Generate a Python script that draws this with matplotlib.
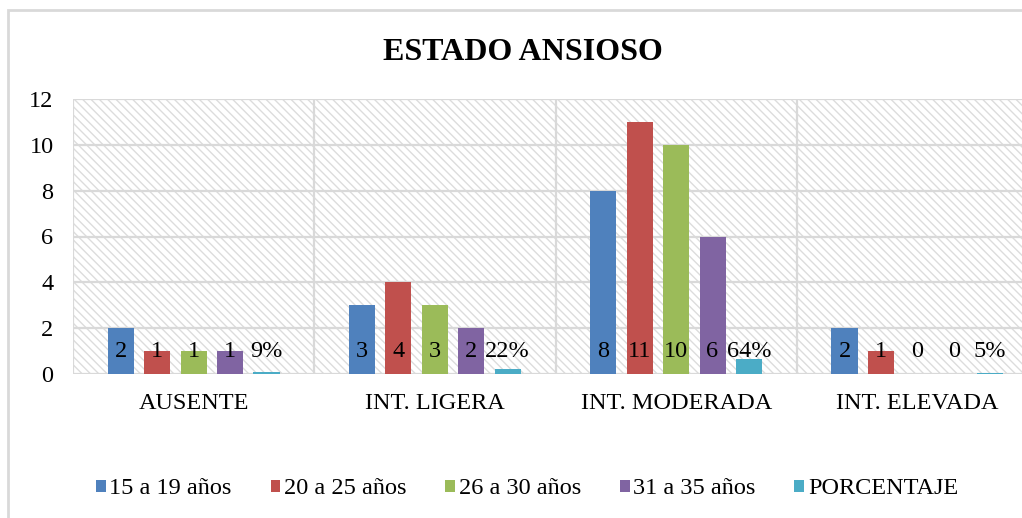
import matplotlib.pyplot as plt
from matplotlib.patches import Rectangle
import numpy as np

plt.rcParams['font.family'] = ['Liberation Serif', 'DejaVu Serif']
plt.rcParams['hatch.linewidth'] = 1.0

categories = ['AUSENTE', 'INT. LIGERA', 'INT. MODERADA', 'INT. ELEVADA']
series_names = ['15 a 19 años', '20 a 25 años', '26 a 30 años', '31 a 35 años', 'PORCENTAJE']
edad_15_19 = [2, 3, 8, 2]
edad_20_25 = [1, 4, 11, 1]
edad_26_30 = [1, 3, 10, 0]
edad_31_35 = [1, 2, 6, 0]
porcentaje = [0.09, 0.22, 0.64, 0.05]
porcentaje_labels = ['9%', '22%', '64%', '5%']
colors = ['#4F81BD', '#C0504D', '#9BBB59', '#8064A2', '#4BACC6']

fig = plt.figure(figsize=(10.22, 5.18), dpi=100)
ax = fig.add_axes([73 / 1022, 144 / 518, 965 / 1022, 275 / 518])

# outer chart border
fig.patches.append(Rectangle((8 / 1022, -0.1), 1.2, (508 / 518) + 0.1,
                             transform=fig.transFigure, fill=False,
                             edgecolor='#d9d9d9', linewidth=2, zorder=0))

ax.set_xlim(-0.5, 3.5)
ax.set_ylim(0, 12)
ax.add_patch(Rectangle((0, 0), 1, 1, transform=ax.transAxes, facecolor='white',
                       edgecolor='#dcdcdc', hatch='\\\\\\\\', linewidth=0, zorder=0))

for y in range(0, 13, 2):
    ax.axhline(y, color='#d9d9d9', linewidth=1.6, zorder=1)
for x in [-0.5, 0.5, 1.5, 2.5]:
    ax.axvline(x, color='#d9d9d9', linewidth=1.6, zorder=1)

series = [edad_15_19, edad_20_25, edad_26_30, edad_31_35, porcentaje]
slot = 0.151
width = 0.108
xs = np.arange(len(categories))
for j, vals in enumerate(series):
    pos = xs + (j - 2) * slot
    ax.bar(pos, vals, width=width, color=colors[j], label=series_names[j], zorder=2)
    for k, v in enumerate(vals):
        txt = porcentaje_labels[k] if j == 4 else str(v)
        ax.text(pos[k], 1.0, txt, ha='center', va='center', fontsize=17.5, zorder=3)

ax.set_yticks(range(0, 13, 2))
ax.set_xticks(xs)
ax.set_xticklabels(categories)
ax.tick_params(axis='both', length=0, labelsize=17.5)
ax.tick_params(axis='y', pad=14)
ax.tick_params(axis='x', pad=14)
for s in ax.spines.values():
    s.set_visible(False)

fig.text(523 / 1022, 1 - 52 / 518, 'ESTADO ANSIOSO', ha='center', va='center',
         fontsize=23, fontweight='bold')

fig.legend(loc='center', bbox_to_anchor=(527 / 1022, 1 - 489 / 518), ncol=5,
           frameon=False, fontsize=17.5, handlelength=0.4, handleheight=0.4,
           handletextpad=0.15, columnspacing=1.6)

fig.savefig('out.png', dpi=100)
